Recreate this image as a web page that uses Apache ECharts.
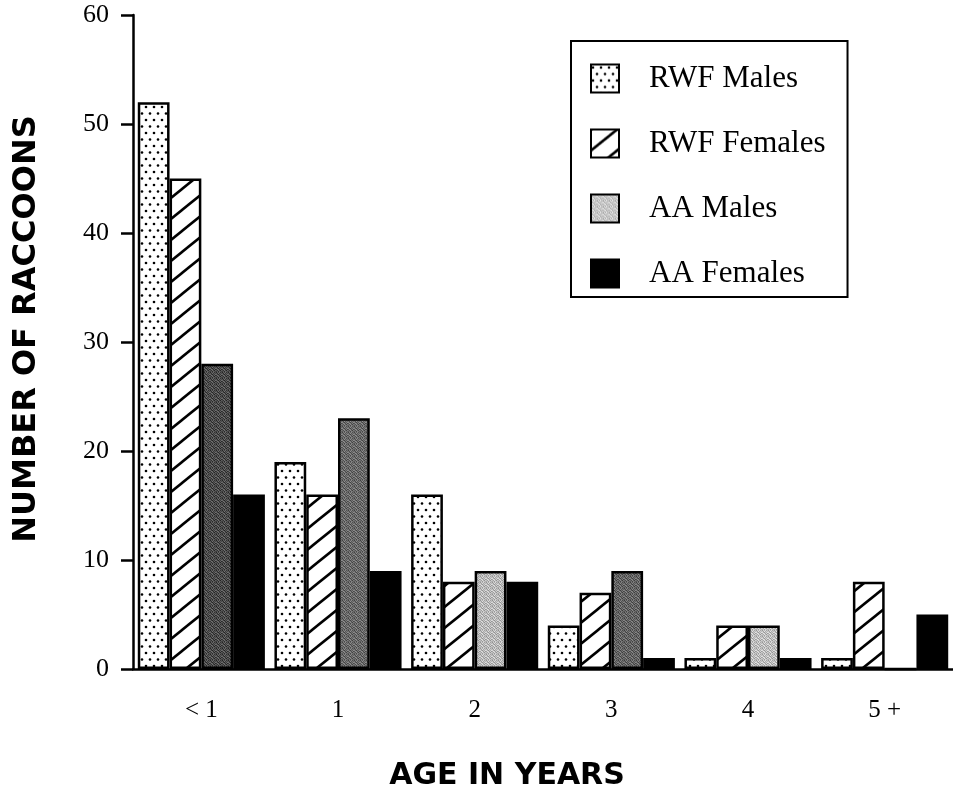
<!DOCTYPE html>
<html>
<head>
<meta charset="utf-8">
<script src="https://cdn.jsdelivr.net/npm/echarts@6/dist/echarts.min.js"></script>
<style>
html,body{margin:0;padding:0;background:#fff;}
#chart{width:953px;height:796px;}
</style>
</head>
<body>
<div id="chart"></div>
<script>
// ---- data ----
const categories = ['< 1', '1', '2', '3', '4', '5 +'];
const seriesNames = ['RWF Males', 'RWF Females', 'AA Males', 'AA Females'];
const rwfMales   = [52, 19, 16, 4, 1, 1];
const rwfFemales = [45, 16, 8, 7, 4, 8];
const aaMales    = [28, 23, 9, 9, 4, 0];
const aaFemales  = [16, 9, 8, 1, 1, 5];
const yTicks = [0, 10, 20, 30, 40, 50, 60];

// ---- fill patterns ----
function dotPattern() {
  const c = document.createElement('canvas');
  c.width = 8; c.height = 13;
  const g = c.getContext('2d');
  g.fillStyle = '#fff'; g.fillRect(0, 0, 8, 13);
  g.fillStyle = '#000';
  [[2, 3], [6, 9.5]].forEach(p => { g.beginPath(); g.arc(p[0], p[1], 1.3, 0, Math.PI * 2); g.fill(); });
  return { image: c, repeat: 'repeat' };
}
function hatchPattern() {
  const W = 26, H = 21;
  const c = document.createElement('canvas');
  c.width = W; c.height = H;
  const g = c.getContext('2d');
  g.fillStyle = '#fff'; g.fillRect(0, 0, W, H);
  g.strokeStyle = '#000'; g.lineWidth = 2.6;
  for (let k = -1; k <= 1; k++) {
    g.beginPath(); g.moveTo(-2, H + k * H + 1.6); g.lineTo(W + 2, k * H - 1.6); g.stroke();
  }
  return { image: c, repeat: 'repeat' };
}
const stippleMatrix = [
  [-40, 20, -10, 30, -25, 5],
  [10, -30, 40, -20, 15, -5],
  [30, -10, -40, 10, -15, 35],
  [-20, 40, 20, -30, 25, -35],
  [5, -25, 35, -5, -40, 20],
  [-15, 15, -35, 25, 10, -10]
];
function stipplePattern(base) {
  const n = stippleMatrix.length;
  const c = document.createElement('canvas');
  c.width = n; c.height = n;
  const g = c.getContext('2d');
  for (let y = 0; y < n; y++) for (let x = 0; x < n; x++) {
    const v = Math.max(0, Math.min(255, base + stippleMatrix[y][x]));
    g.fillStyle = 'rgb(' + v + ',' + v + ',' + v + ')';
    g.fillRect(x, y, 1, 1);
  }
  return { image: c, repeat: 'repeat' };
}
const aaMalesShade = [75, 105, 185, 100, 190, 180];

const border = { borderColor: '#000', borderWidth: 2.5 };
const serif = 'Liberation Serif, Times New Roman, serif';
const sans = 'DejaVu Sans, sans-serif';

const chart = echarts.init(document.getElementById('chart'), null, { renderer: 'canvas' });
chart.setOption({
  backgroundColor: '#fff',
  animation: false,
  grid: { left: 133, width: 824, top: 15, height: 655, containLabel: false },
  legend: {
    data: seriesNames,
    orient: 'vertical',
    left: 571, top: 41,
    padding: [22, 22, 8, 19],
    itemWidth: 28, itemHeight: 28, itemGap: 34,
    borderColor: '#000', borderWidth: 2,
    selectedMode: false,
    icon: 'rect',
    textStyle: { fontFamily: serif, fontSize: 31, color: '#000', padding: [0, 0, 0, 25], lineHeight: 30 }
  },
  xAxis: {
    type: 'category',
    data: categories,
    name: 'AGE IN YEARS',
    nameLocation: 'middle',
    nameGap: 92,
    nameTextStyle: { fontFamily: sans, fontWeight: 'bold', fontSize: 30, color: '#000', padding: [0, 72, 0, 0] },
    axisLine: { lineStyle: { color: '#000', width: 2.5 } },
    axisTick: { alignWithLabel: true, length: 14, lineStyle: { color: '#000', width: 2.5 } },
    axisLabel: { fontFamily: serif, fontSize: 25, color: '#000', margin: 29 },
    splitLine: { show: false }
  },
  yAxis: {
    type: 'value',
    min: 0, max: 60, interval: 10,
    name: 'NUMBER OF RACCOONS',
    nameLocation: 'middle',
    nameGap: 90,
    nameRotate: 90,
    nameTextStyle: { fontFamily: sans, fontWeight: 'bold', fontSize: 32, color: '#000', padding: [0, 0, 0, 26] },
    axisLine: { show: true, lineStyle: { color: '#000', width: 2.5 } },
    axisTick: { show: true, length: 12, lineStyle: { color: '#000', width: 2.5 } },
    axisLabel: { fontFamily: serif, fontSize: 26, color: '#000', margin: 24,
      formatter: v => yTicks.includes(v) ? String(v) : '' },
    splitLine: { show: false }
  },
  series: [
    { name: seriesNames[0], type: 'bar', data: rwfMales, barGap: '0%', barCategoryGap: '7%',
      itemStyle: Object.assign({ color: dotPattern() }, border) },
    { name: seriesNames[1], type: 'bar', data: rwfFemales, barGap: '0%', barCategoryGap: '7%',
      itemStyle: Object.assign({ color: hatchPattern() }, border) },
    { name: seriesNames[2], type: 'bar', barGap: '0%', barCategoryGap: '7%',
      data: aaMales.map((v, i) => ({ value: v, itemStyle: { color: stipplePattern(aaMalesShade[i]) } })),
      itemStyle: Object.assign({ color: stipplePattern(200) }, border) },
    { name: seriesNames[3], type: 'bar', data: aaFemales, barGap: '0%', barCategoryGap: '7%',
      itemStyle: Object.assign({ color: '#000' }, border) }
  ]
});
</script>
</body>
</html>
